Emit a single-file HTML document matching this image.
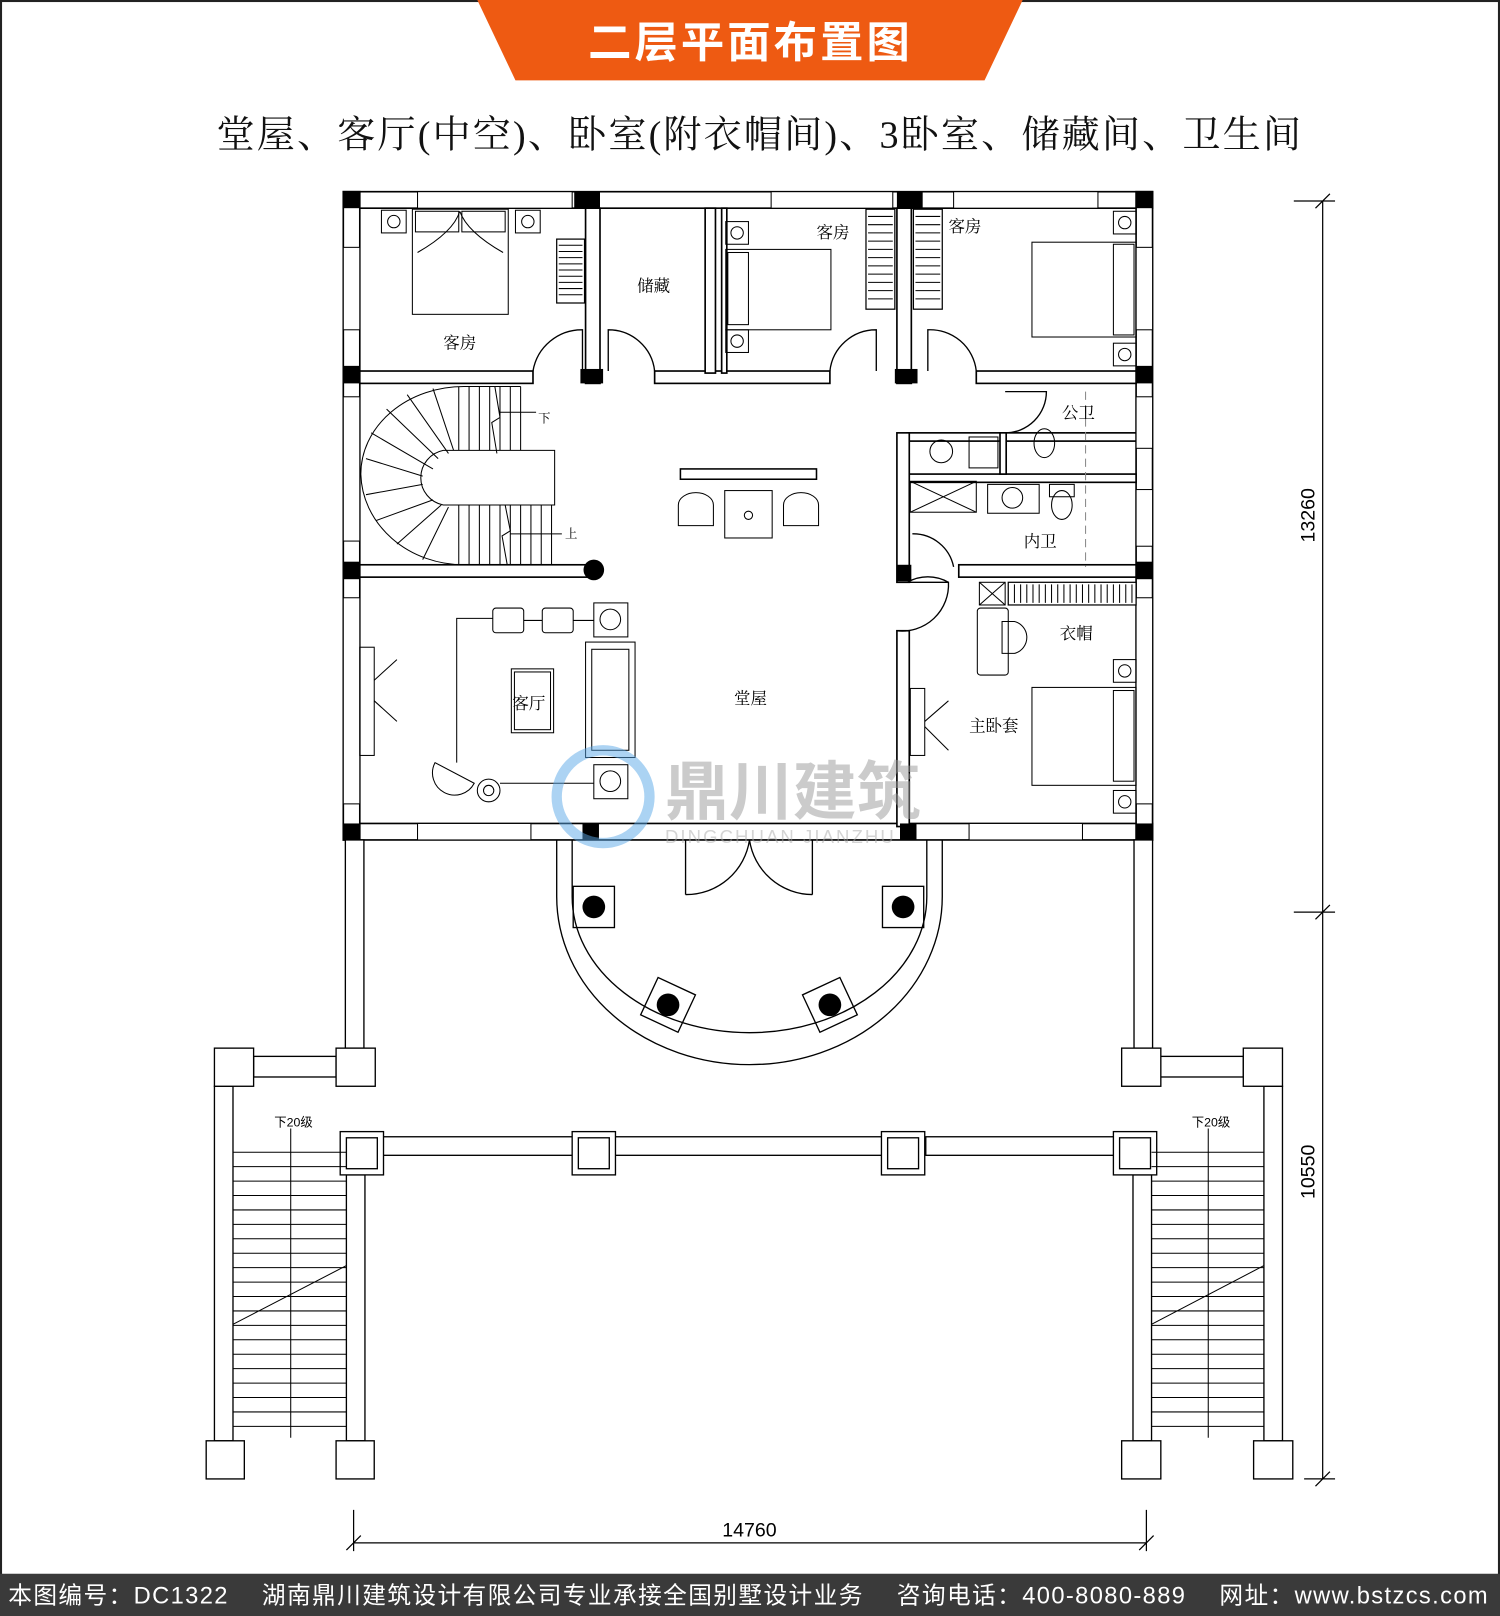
<!DOCTYPE html>
<html><head><meta charset="utf-8"><style>
html,body{margin:0;padding:0;background:#fff}
svg{display:block}
</style></head><body>
<svg width="1500" height="1616" viewBox="0 0 1455 1568" preserveAspectRatio="none" xmlns="http://www.w3.org/2000/svg" font-family="Liberation Sans,Noto Sans CJK SC,sans-serif">
<rect x="0" y="0" width="1455" height="1568" fill="#fff"/>
<rect x="1" y="1" width="1453" height="1566" fill="none" stroke="#222" stroke-width="2"/>
<polygon points="463,0 992,0 955,78 500,78" fill="#ee5a12"/>
<text x="728" y="56" font-size="42" fill="#fff" text-anchor="middle" font-weight="bold" letter-spacing="3">二层平面布置图</text>
<text x="210" y="143" font-size="37" fill="#111" textLength="1052" lengthAdjust="spacing" style="font-family:'Liberation Serif','Noto Serif CJK SC',serif">堂屋、客厅(中空)、卧室(附衣帽间)、3卧室、储藏间、卫生间</text>

<g fill="#fff" stroke="#000" stroke-width="1.6">
<rect x="333" y="186" width="785" height="16"/>
<rect x="333" y="799" width="785" height="16"/>
<rect x="333" y="186" width="16" height="629"/>
<rect x="1102" y="186" width="16" height="629"/>
<rect x="349" y="360" width="168" height="12"/>
<rect x="635" y="360" width="170" height="12"/>
<rect x="947" y="360" width="155" height="12"/>
<rect x="349" y="548" width="225" height="12"/>
<rect x="880" y="420" width="222" height="8"/>
<rect x="880" y="460" width="222" height="8"/>
<rect x="930" y="548" width="172" height="12"/>
<rect x="568" y="202" width="14" height="170"/>
<rect x="684" y="202" width="10" height="160"/>
<rect x="700" y="202" width="5" height="160"/>
<rect x="870" y="202" width="14" height="170"/>
<rect x="870" y="420" width="12" height="145"/>
<rect x="870" y="612" width="12" height="190"/>
<rect x="970" y="420" width="6" height="40"/>
</g>
<g fill="#000">
<rect x="333" y="186" width="16" height="16"/><rect x="1102" y="186" width="16" height="16"/>
<rect x="333" y="799" width="16" height="16"/><rect x="1102" y="799" width="16" height="16"/>
<rect x="557" y="186" width="25" height="16"/><rect x="870" y="186" width="25" height="16"/>
<rect x="333" y="355" width="16" height="17"/><rect x="1102" y="355" width="16" height="17"/>
<rect x="333" y="545" width="16" height="17"/><rect x="1102" y="545" width="16" height="17"/>
<rect x="563" y="358" width="22" height="14"/><rect x="868" y="358" width="22" height="14"/>
<rect x="870" y="548" width="14" height="16"/>
<circle cx="576" cy="553" r="10"/>
<rect x="565" y="799" width="16" height="16"/><rect x="873" y="799" width="16" height="16"/>
</g>
<g stroke="#000" stroke-width="1" fill="#fff">
<rect x="405" y="186" width="150" height="16"/><rect x="748" y="186" width="118" height="16"/><rect x="925" y="186" width="140" height="16"/>
<rect x="405" y="799" width="110" height="16"/><rect x="940" y="799" width="110" height="16"/>
<rect x="333" y="240" width="16" height="80"/><rect x="1102" y="240" width="16" height="80"/>
<rect x="333" y="385" width="16" height="140"/><rect x="1102" y="385" width="16" height="50"/><rect x="1102" y="475" width="16" height="55"/>
<rect x="333" y="580" width="16" height="200"/><rect x="1102" y="580" width="16" height="200"/>
</g>
<g fill="none" stroke="#000" stroke-width="1.3">
<path d="M517,360 A48,48 0 0 1 565,320 L565,360"/>
<path d="M635,360 A45,45 0 0 0 590,320 L590,360"/>
<path d="M805,360 A45,45 0 0 1 850,320 L850,360"/>
<path d="M947,360 A45,45 0 0 0 900,320 L900,360"/>
<path d="M880,565 A40,40 0 0 1 920,565"/>
<path d="M870,612 A45,45 0 0 0 920,565 L880,565"/>
<path d="M975,420 A40,40 0 0 0 1015,380 L975,380"/>
<path d="M885,518 A40,40 0 0 1 925,550"/>
</g>
<g fill="#fff" stroke="#000" stroke-width="1.2">
<rect x="540" y="232" width="27" height="62"/><rect x="840" y="203" width="28" height="97"/><rect x="886" y="203" width="28" height="97"/>
<rect x="978" y="565" width="124" height="22"/>
</g>
<g stroke="#000" stroke-width="1">
<path d="M542,238 h23 M542,244 h23 M542,250 h23 M542,256 h23 M542,262 h23 M542,268 h23 M542,274 h23 M542,280 h23 M542,286 h23"/>
<path d="M842,210 h24 M842,218 h24 M842,226 h24 M842,234 h24 M842,242 h24 M842,250 h24 M842,258 h24 M842,266 h24 M842,274 h24 M842,282 h24 M842,290 h24"/>
<path d="M888,210 h24 M888,218 h24 M888,226 h24 M888,234 h24 M888,242 h24 M888,250 h24 M888,258 h24 M888,266 h24 M888,274 h24 M888,282 h24 M888,290 h24"/>
<path d="M984,567 v18 M990,567 v18 M996,567 v18 M1002,567 v18 M1008,567 v18 M1014,567 v18 M1020,567 v18 M1026,567 v18 M1032,567 v18 M1038,567 v18 M1044,567 v18 M1050,567 v18 M1056,567 v18 M1062,567 v18 M1068,567 v18 M1074,567 v18 M1080,567 v18 M1086,567 v18 M1092,567 v18 M1098,567 v18"/>
</g>
<g fill="none" stroke="#000" stroke-width="1">
<rect x="400" y="203" width="93" height="102"/><rect x="403" y="205" width="42" height="20"/><rect x="448" y="205" width="42" height="20"/>
<path d="M405,245 Q440,225 446,205 M488,245 Q453,225 446,205"/>
<rect x="370" y="204" width="24" height="22"/><circle cx="382" cy="215" r="6"/><rect x="500" y="204" width="24" height="22"/><circle cx="512" cy="215" r="6"/>
<rect x="704" y="242" width="102" height="78"/><rect x="706" y="245" width="20" height="70"/>
<rect x="704" y="215" width="22" height="22"/><circle cx="715" cy="226" r="6"/><rect x="704" y="320" width="22" height="22"/><circle cx="715" cy="331" r="6"/>
<rect x="1001" y="235" width="101" height="92"/><rect x="1080" y="237" width="20" height="88"/>
<rect x="1080" y="205" width="22" height="22"/><circle cx="1091" cy="216" r="6"/><rect x="1080" y="333" width="22" height="22"/><circle cx="1091" cy="344" r="6"/>
<rect x="1001" y="667" width="101" height="95"/><rect x="1080" y="670" width="20" height="88"/>
<rect x="1080" y="640" width="22" height="22"/><circle cx="1091" cy="651" r="6"/><rect x="1080" y="767" width="22" height="22"/><circle cx="1091" cy="778" r="6"/>
<rect x="660" y="455" width="132" height="10" stroke-width="1.5"/>
<rect x="703" y="476" width="46" height="46"/><circle cx="726" cy="500" r="4"/>
<path d="M658,510 v-20 a17,12 0 0 1 34,0 v20 z M760,510 v-20 a17,12 0 0 1 34,0 v20 z"/>
<rect x="478" y="590" width="30" height="24" rx="3"/><rect x="526" y="590" width="30" height="24" rx="3"/>
<rect x="576" y="585" width="33" height="33"/><circle cx="592" cy="601" r="10"/>
<rect x="576" y="742" width="33" height="33"/><circle cx="592" cy="758" r="10"/>
<path d="M443,740 V600 H478 M508,602 H526 M556,602 H576"/>
<rect x="568" y="623" width="48" height="112"/><rect x="574" y="630" width="36" height="98"/>
<rect x="496" y="649" width="41" height="62"/><rect x="499" y="652" width="35" height="56"/>
<path d="M422,740 a20,20 0 1 0 38,20 z"/><circle cx="474" cy="767" r="11"/><circle cx="474" cy="767" r="5"/><path d="M485,760 H576"/>
<rect x="349" y="628" width="14" height="105"/><path d="M363,660 L385,640 M363,680 L385,700"/>
<rect x="883" y="668" width="14" height="65"/><path d="M897,700 L920,680 M897,705 L920,728"/>
<rect x="950" y="565" width="25" height="22"/><path d="M950,565 l25,22 M975,565 l-25,22"/>
<rect x="883" y="467" width="64" height="30"/><path d="M883,467 l64,30 M947,467 l-64,30"/>
<rect x="948" y="590" width="30" height="65" rx="3"/><path d="M972,603 h12 a16,16 0 0 1 0,31 h-12 z"/>
<circle cx="913" cy="438" r="11"/><rect x="940" y="424" width="28" height="30"/>
<rect x="958" y="470" width="50" height="28"/><circle cx="982" cy="483" r="10"/><rect x="1018" y="470" width="24" height="12"/><ellipse cx="1030" cy="490" rx="10" ry="14"/>
<ellipse cx="1013" cy="430" rx="10" ry="14"/>
<path d="M1053,380 V550" stroke-dasharray="8,5" stroke="#888"/>
<path d="M430,437 H538 V490 H430 A27,27 0 0 1 430,437 Z"/>
<path d="M350,460 A100,85 0 0 1 450,375 H505 M350,460 A100,90 0 0 0 450,548"/>
<path d="M445,375 V437 M455,375 V437 M465,375 V437 M475,375 V437 M485,375 V437 M495,375 V437 M505,375 V437 M445,490 V548 M455,490 V548 M465,490 V548 M475,490 V548 M485,490 V548 M495,490 V548 M505,490 V548 M515,490 V548 M525,490 V548 M535,490 V548"/>
<path d="M360,420 L420,455 M375,397 L425,445 M395,383 L435,440 M420,377 L440,437 M355,445 L410,462 M355,480 L410,470 M365,505 L420,485 M385,528 L428,490 M410,543 L435,492"/>
<path d="M480,375 l5,30 l-8,5 l5,30 M490,490 l5,25 l-8,5 l5,28 M485,400 H520 M495,518 H545"/>
</g>
<g font-size="16" fill="#000" style="font-family:'Liberation Serif','Noto Serif CJK SC',serif">
<text x="430" y="338">客房</text><text x="618" y="283">储藏</text><text x="792" y="231">客房</text><text x="920" y="225">客房</text>
<text x="1030" y="406">公卫</text><text x="993" y="531">内卫</text><text x="1028" y="620">衣帽</text><text x="940" y="710">主卧套</text>
<text x="712" y="683">堂屋</text><text x="497" y="688">客厅</text><text x="522" y="410" font-size="12">下</text><text x="548" y="522" font-size="12">上</text>
</g>
<g opacity="0.5">
<circle cx="585" cy="773" r="45" fill="none" stroke="#5aa8e8" stroke-width="10"/>
<text x="645" y="790" font-size="62" fill="#999" font-weight="bold">鼎川建筑</text>
<text x="645" y="818" font-size="18" fill="#aaa" letter-spacing="2">DINGCHUAN JIANZHU</text>
</g>
<g fill="none" stroke="#000" stroke-width="1.3">
<path d="M540,815 V870 A187,163 0 0 0 914,870 V815"/>
<path d="M555,815 V870 A172,132 0 0 0 899,870 V815"/>
<path d="M665,815 V868 M788,815 V868 M665,868 A62,62 0 0 0 727,815 M788,868 A62,62 0 0 1 727,815"/>
<rect x="556" y="860" width="40" height="40"/><rect x="856" y="860" width="40" height="40"/>
<rect x="628" y="955" width="40" height="40" transform="rotate(25 648 975)"/><rect x="785" y="955" width="40" height="40" transform="rotate(-25 805 975)"/>
</g>
<g fill="#000"><circle cx="576" cy="880" r="11"/><circle cx="876" cy="880" r="11"/><circle cx="648" cy="975" r="11"/><circle cx="805" cy="975" r="11"/></g>
<g fill="#fff" stroke="#000" stroke-width="1.3">
<rect x="335" y="815" width="18" height="202"/><rect x="1100" y="815" width="18" height="202"/>
<rect x="246" y="1025" width="80" height="20"/><rect x="1126" y="1025" width="80" height="20"/>
<rect x="370" y="1103" width="186" height="18"/><rect x="596" y="1103" width="260" height="18"/><rect x="898" y="1103" width="184" height="18"/>
<rect x="208" y="1054" width="18" height="344"/><rect x="336" y="1140" width="18" height="258"/>
<rect x="1226" y="1054" width="18" height="344"/><rect x="1099" y="1140" width="18" height="258"/>
<rect x="208" y="1017" width="38" height="37"/><rect x="326" y="1017" width="38" height="37"/>
<rect x="1088" y="1017" width="38" height="37"/><rect x="1206" y="1017" width="38" height="37"/>
<rect x="330" y="1098" width="42" height="42"/><rect x="555" y="1098" width="42" height="42"/><rect x="855" y="1098" width="42" height="42"/><rect x="1080" y="1098" width="42" height="42"/>
<rect x="336" y="1104" width="30" height="30"/><rect x="561" y="1104" width="30" height="30"/><rect x="861" y="1104" width="30" height="30"/><rect x="1086" y="1104" width="30" height="30"/>
<rect x="200" y="1398" width="37" height="37"/><rect x="326" y="1398" width="37" height="37"/>
<rect x="1088" y="1398" width="38" height="37"/><rect x="1216" y="1398" width="38" height="37"/>
</g>
<g stroke="#000" stroke-width="1" fill="none">
<path d="M226,1118 H336 M226,1132 H336 M226,1146 H336 M226,1160 H336 M226,1174 H336 M226,1188 H336 M226,1202 H336 M226,1216 H336 M226,1230 H336 M226,1244 H336 M226,1258 H336 M226,1272 H336 M226,1286 H336 M226,1300 H336 M226,1314 H336 M226,1328 H336 M226,1342 H336 M226,1356 H336 M226,1370 H336 M226,1384 H336"/>
<path d="M1117,1118 H1226 M1117,1132 H1226 M1117,1146 H1226 M1117,1160 H1226 M1117,1174 H1226 M1117,1188 H1226 M1117,1202 H1226 M1117,1216 H1226 M1117,1230 H1226 M1117,1244 H1226 M1117,1258 H1226 M1117,1272 H1226 M1117,1286 H1226 M1117,1300 H1226 M1117,1314 H1226 M1117,1328 H1226 M1117,1342 H1226 M1117,1356 H1226 M1117,1370 H1226 M1117,1384 H1226"/>
<path d="M226,1285 L336,1228 M1117,1285 L1226,1228 M282,1095 V1395 M1172,1095 V1395"/>
</g>
<text x="266" y="1093" font-size="12">下20级</text><text x="1156" y="1093" font-size="12">下20级</text>
<g stroke="#000" stroke-width="1.2">
<path d="M1283,195 V1435 M1255,195 H1295 M1255,885 H1295 M1265,1435 H1295 M1276,202 l14,-14 M1276,892 l14,-14 M1276,1442 l14,-14"/>
<path d="M343,1465 V1505 M1112,1465 V1505 M343,1497 H1112 M336,1504 l14,-14 M1105,1504 l14,-14"/>
</g>
<text x="0" y="0" font-size="19" transform="translate(1275,500) rotate(-90)" text-anchor="middle">13260</text>
<text x="0" y="0" font-size="19" transform="translate(1275,1137) rotate(-90)" text-anchor="middle">10550</text>
<text x="727" y="1491" font-size="19" text-anchor="middle">14760</text>
<rect x="0" y="1527" width="1455" height="41" fill="#3a3a3a"/>
<text x="8" y="1556" font-size="23" fill="#fff" textLength="1435" lengthAdjust="spacing">本图编号：DC1322　 湖南鼎川建筑设计有限公司专业承接全国别墅设计业务　 咨询电话：400-8080-889　 网址：www.bstzcs.com</text>
</svg>
</body></html>
